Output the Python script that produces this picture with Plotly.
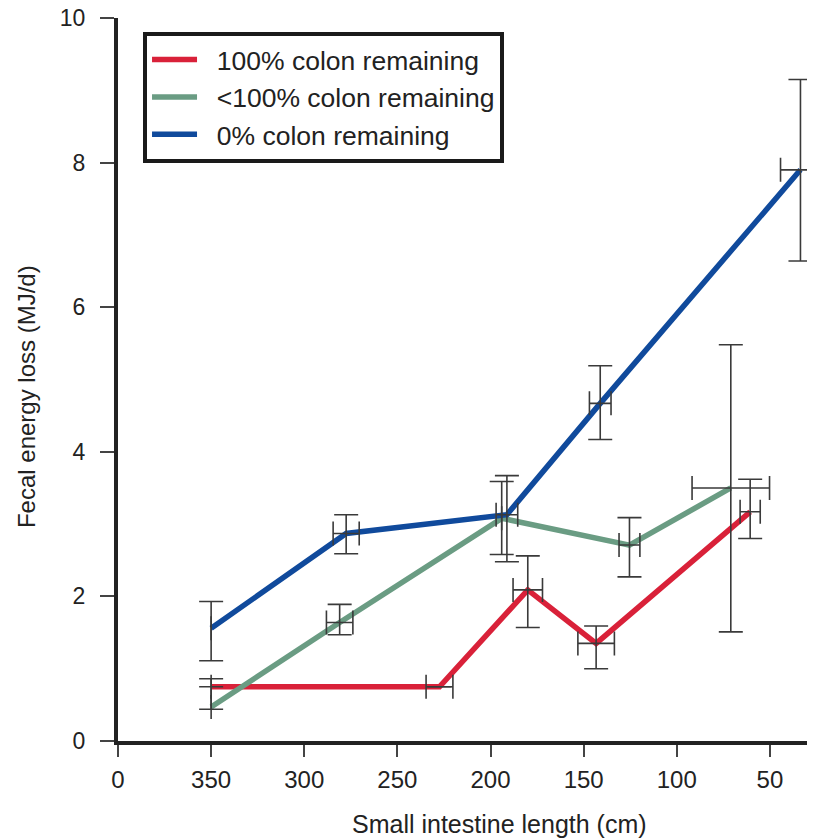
import plotly.graph_objects as go

# ---- data (x: small intestine length in cm, y: fecal energy loss MJ/d) ----
tick_vals = [400, 350, 300, 250, 200, 150, 100, 50]
tick_text = ["0", "350", "300", "250", "200", "150", "100", "50"]
y_ticks = [0, 2, 4, 6, 8, 10]

red_name = "100% colon remaining"
red_x = [350, 227.4, 180, 143.3, 60.6]
red_y = [0.75, 0.75, 2.09, 1.35, 3.17]
red_yerr_plus = [None, None, 0.47, 0.24, 0.45]
red_yerr_minus = [None, None, 0.52, 0.35, 0.37]
red_xerr = [None, 7.2, 7.9, 9.8, 5.4]

green_name = "<100% colon remaining"
green_x = [350, 281, 194, 125.4, 71]
green_y = [0.47, 1.64, 3.08, 2.71, 3.50]
green_yerr_plus = [0.39, 0.25, 0.51, 0.38, 1.98]
green_yerr_minus = [0.03, 0.17, 0.50, 0.44, 1.99]
green_xerr = [None, 7.1, None, 5.6, 20.8]

blue_name = "0% colon remaining"
blue_x = [350, 277.5, 191.2, 141.1, 33.6]
blue_y = [1.56, 2.87, 3.13, 4.67, 7.90]
blue_yerr_plus = [0.37, 0.26, 0.54, 0.52, 1.25]
blue_yerr_minus = [0.45, 0.28, 0.65, 0.50, 1.26]
blue_xerr = [None, 7.0, 5.8, 5.8, 10.7]

x_title = "Small intestine length (cm)"
y_title = "Fecal energy loss (MJ/d)"

colors = {"red": "#D92139", "green": "#6A9C83", "blue": "#104A9C"}
ERR_COLOR = "#3a3a3a"
TEXT = "#222222"
FONT = "Liberation Sans, Arial, Helvetica, sans-serif"
NB = "\u00a0\u00a0"

series = [
    (red_name, red_x, red_y, red_yerr_plus, red_yerr_minus, red_xerr, colors["red"]),
    (green_name, green_x, green_y, green_yerr_plus, green_yerr_minus, green_xerr, colors["green"]),
    (blue_name, blue_x, blue_y, blue_yerr_plus, blue_yerr_minus, blue_xerr, colors["blue"]),
]

fig = go.Figure()

# lines (legend entries)
for name, xs, ys, ep, em, ex, col in series:
    fig.add_trace(go.Scatter(
        x=xs, y=ys, mode="lines", name=NB + name,
        line=dict(color=col, width=5.5),
    ))

# error bars drawn on top of the lines
for name, xs, ys, ep, em, ex, col in series:
    fig.add_trace(go.Scatter(
        x=xs, y=ys, mode="markers", showlegend=False, hoverinfo="skip",
        marker=dict(size=1, color="rgba(0,0,0,0)"),
        error_y=dict(type="data", symmetric=False, array=ep, arrayminus=em,
                     color=ERR_COLOR, thickness=1.6, width=12),
        error_x=dict(type="data", symmetric=False, array=ex, arrayminus=ex,
                     color=ERR_COLOR, thickness=1.6, width=12),
    ))

# plot area (figure px): left 110, width 705, top 10, height 723
fig.update_layout(
    width=815, height=839,
    margin=dict(l=110, r=0, t=10, b=106),
    paper_bgcolor="white", plot_bgcolor="white",
    font=dict(family=FONT, size=24, color=TEXT),
    showlegend=True,
    legend=dict(
        x=0.0355, y=0.981, xanchor="left", yanchor="top",
        bgcolor="white", bordercolor="#1a1a1a", borderwidth=4,
        font=dict(family=FONT, size=26.5, color=TEXT),
        itemwidth=45, tracegroupgap=0,
    ),
    xaxis=dict(
        range=[400, 21.5], autorange=False,
        tickmode="array", tickvals=tick_vals, ticktext=tick_text,
        showgrid=False, zeroline=False,
        showline=True, linecolor="#222222", linewidth=4,
        ticks="outside", ticklen=12, tickwidth=1.5, tickcolor="#444444",
        tickfont=dict(family=FONT, size=24, color=TEXT),
        ticklabelstandoff=2, ticklabeloverflow="allow",
    ),
    yaxis=dict(
        range=[0, 10], autorange=False,
        tickmode="array", tickvals=y_ticks,
        showgrid=False, zeroline=False,
        showline=True, linecolor="#222222", linewidth=4,
        ticks="outside", ticklen=14, tickwidth=1.5, tickcolor="#444444",
        tickfont=dict(family=FONT, size=23, color=TEXT),
        ticklabelstandoff=10, ticklabeloverflow="allow", automargin=False,
    ),
    annotations=[
        dict(text=x_title, xref="paper", yref="paper",
             x=0.5418, y=-0.115, xanchor="center", yanchor="middle",
             showarrow=False, font=dict(family=FONT, size=25, color=TEXT)),
        dict(text=y_title, xref="paper", yref="paper", textangle=-90,
             x=-0.129, y=0.4758, xanchor="center", yanchor="middle",
             showarrow=False, font=dict(family=FONT, size=24, color=TEXT)),
    ],
)

fig.write_html("out.html")
